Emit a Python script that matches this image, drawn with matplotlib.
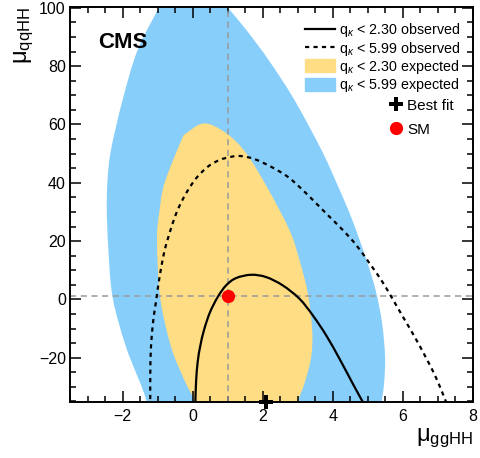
import matplotlib
matplotlib.use("Agg")
import matplotlib.pyplot as plt
from matplotlib.lines import Line2D
from matplotlib.patches import Patch, PathPatch
from matplotlib.path import Path
from matplotlib.ticker import MultipleLocator

plt.rcParams['font.family'] = ['Liberation Sans', 'DejaVu Sans']
plt.rcParams['mathtext.fontset'] = 'custom'
plt.rcParams['mathtext.rm'] = 'Liberation Sans'
plt.rcParams['mathtext.it'] = 'Liberation Sans:italic'
plt.rcParams['mathtext.bf'] = 'Liberation Sans:bold'

# ---- data (boundary points) ----
exp599_x = [-0.95, -0.72, 0.60, 0.98, 1.534, 2.191, 2.906, 3.677, 4.134, 4.534, 4.934, 5.22, 5.406,
            5.491, 5.463, 5.391, 5.30, -1.45, -1.314, -1.903, -2.286, -2.409, -2.45, -2.429, -2.331,
            -2.00, -1.571]
exp599_y = [100.4, 106.0, 106.0, 100.4, 92.38, 81.71, 68.37, 51.22, 39.21, 27.89, 14.51, 3.19, -8.13,
            -19.79, -28.71, -35.23, -42.0, -42.0, -35.13, -16.26, 0.89, 18.04, 30.6, 40.93, 51.22,
            68.37, 85.52]

exp230_x = [0.334, 0.96, 1.53, 2.143, 2.763, 3.049, 3.286, 3.411, 3.383, 3.191, 3.00, 2.90,
            0.00, 0.049, -0.237, -0.617, -0.931, -1.017, -0.95, -0.80, -0.32, -0.18]
exp230_y = [60.38, 57.0, 50.1, 38.08, 23.77, 13.48, 2.06, -10.53, -19.69, -28.82, -35.13, -42.0,
            -42.0, -35.13, -27.68, -16.26, 0.89, 20.34, 30.0, 40.0, 54.6, 57.0]

obs230_x = [0.063, 0.077, 0.097, 0.143, 0.22, 0.334, 0.497, 0.714, 0.954, 1.24, 1.669, 2.097,
            2.571, 3.049, 3.429, 3.811, 4.191, 4.571, 4.857, 5.07]
obs230_y = [-40.0, -35.2, -28.4, -21.5, -15.8, -10.1, -4.36, 0.79, 4.80, 7.31, 8.44, 7.65,
            4.80, 0.21, -5.49, -12.35, -20.38, -28.95, -35.23, -40.0]

obs599_x = [-1.21, -1.209, -1.209, -1.189, -1.123, -1.046, -0.951, -0.809, -0.617, -0.429, -0.189,
            0.097, 0.429, 0.763, 1.097, 1.383, 1.763, 2.240, 2.714, 3.143, 3.526, 3.906, 4.286,
            4.669, 5.049, 5.383, 5.669, 6.0, 6.334, 6.669, 6.954, 7.191, 7.40]
obs599_y = [-40.0, -35.23, -25.39, -16.26, -7.10, -0.82, 7.20, 16.33, 24.36, 30.63, 36.36,
            41.51, 45.49, 47.79, 48.92, 49.16, 48.13, 45.49, 42.06, 37.50, 32.93, 28.34, 23.77,
            18.63, 12.35, 6.62, 0.89, -5.97, -12.83, -20.24, -27.10, -33.96, -40.0]

best_fit = (2.1, -35.2)
sm_point = (1.0, 1.0)

labels = [r'q$_{\kappa}$ < 2.30 observed', r'q$_{\kappa}$ < 5.99 observed',
          r'q$_{\kappa}$ < 2.30 expected', r'q$_{\kappa}$ < 5.99 expected']
xlim = (-3.5, 8.0)
ylim = (-35.2, 100.3)


def smooth_path(xs, ys, closed=False):
    """Catmull-Rom curve through the given points, drawn as cubic Bezier segments."""
    pts = list(zip(xs, ys))
    n = len(pts)
    if closed:
        get = lambda i: pts[i % n]
        segs = range(n)
    else:
        get = lambda i: pts[min(max(i, 0), n - 1)]
        segs = range(n - 1)
    verts = [pts[0]]
    codes = [Path.MOVETO]
    for i in segs:
        p0, p1, p2, p3 = get(i - 1), get(i), get(i + 1), get(i + 2)
        c1 = (p1[0] + (p2[0] - p0[0]) / 6, p1[1] + (p2[1] - p0[1]) / 6)
        c2 = (p2[0] - (p3[0] - p1[0]) / 6, p2[1] - (p3[1] - p1[1]) / 6)
        verts += [c1, c2, p2]
        codes += [Path.CURVE4] * 3
    if closed:
        verts.append(pts[0])
        codes.append(Path.CLOSEPOLY)
    return Path(verts, codes)


# ---- figure ----
fig = plt.figure(figsize=(4.81, 4.58), dpi=100)
ax = fig.add_axes([70/481, 1-402/458, 403/481, 395/458])

blue = '#87CEFA'
yellow = '#FEDD84'
ax.add_patch(PathPatch(smooth_path(exp599_x, exp599_y, closed=True), facecolor=blue,
                       edgecolor='none', zorder=1))
ax.add_patch(PathPatch(smooth_path(exp230_x, exp230_y, closed=True), facecolor=yellow,
                       edgecolor='none', zorder=1.5))

ax.axvline(sm_point[0], color='#9a9a9a', lw=1.1, ls=(0, (4, 3)), zorder=2)
ax.axhline(sm_point[1], color='#9a9a9a', lw=1.1, ls=(0, (4, 3)), zorder=2)

ax.add_patch(PathPatch(smooth_path(obs230_x, obs230_y), facecolor='none', edgecolor='black',
                       lw=1.6, zorder=3))
ax.add_patch(PathPatch(smooth_path(obs599_x, obs599_y), facecolor='none', edgecolor='black',
                       lw=1.6, ls=(0, (1.9, 1.9)), zorder=3))

ax.plot([sm_point[0]], [sm_point[1]], 'o', color='red', ms=8.5, mec='red', zorder=4)
ax.plot([best_fit[0]], [best_fit[1]], 'P', color='black', ms=9.5, mec='black', mew=0,
        zorder=7, clip_on=False)

ax.set_xlim(*xlim)
ax.set_ylim(*ylim)
ax.xaxis.set_major_locator(MultipleLocator(2))
ax.xaxis.set_minor_locator(MultipleLocator(0.5))
ax.yaxis.set_major_locator(MultipleLocator(20))
ax.yaxis.set_minor_locator(MultipleLocator(5))
ax.tick_params(which='both', direction='in', top=True, right=True, width=1.1, labelsize=11.5)
ax.tick_params(which='major', length=8)
ax.tick_params(which='minor', length=4.5)
ax.tick_params(axis='x', pad=5)
ax.tick_params(axis='y', pad=3)
for s in ax.spines.values():
    s.set_linewidth(1.4)
    s.set_zorder(6)

ax.set_xlabel(r'$\mathrm{μ_{ggHH}}$', fontsize=17, loc='right', labelpad=2)
ax.set_ylabel(r'$\mathrm{μ_{qqHH}}$', fontsize=17, loc='top', labelpad=2)

ax.text(0.069, 0.896, 'CMS', transform=ax.transAxes, fontsize=16, fontweight='bold',
        ha='left', va='baseline')

h1 = [Line2D([], [], color='black', lw=1.6),
      Line2D([], [], color='black', lw=1.6, ls=(0, (1.9, 1.9))),
      Patch(facecolor=yellow, edgecolor=yellow),
      Patch(facecolor=blue, edgecolor=blue)]
leg1 = ax.legend(h1, labels, loc='upper left', bbox_to_anchor=(0.583, 0.964), frameon=False,
                 fontsize=10.3, handlelength=2.1, handleheight=1.0, handletextpad=0.3,
                 labelspacing=0.02, borderpad=0, borderaxespad=0)
ax.add_artist(leg1)
h2 = [Line2D([], [], ls='none', marker='P', color='black', ms=9.5, mew=0),
      Line2D([], [], ls='none', marker='o', color='red', ms=8.5)]
ax.legend(h2, ['Best fit', 'SM'], loc='upper left', bbox_to_anchor=(0.79, 0.768), frameon=False,
          fontsize=11, handlelength=1.0, handletextpad=0.25, labelspacing=0.65,
          borderpad=0, borderaxespad=0)

fig.savefig('out.png', dpi=100)
